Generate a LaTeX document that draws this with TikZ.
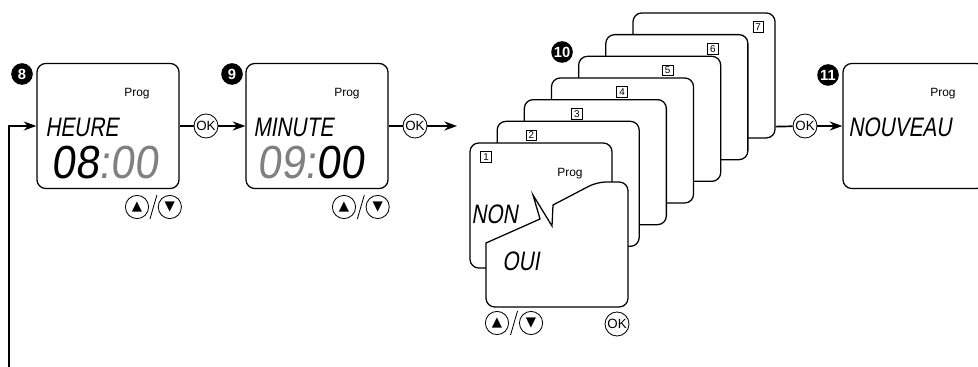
\documentclass[tikz,border=0pt]{standalone}
\usepackage{fontspec}
\setmainfont{Liberation Sans}
\newfontfamily\lcdword[FakeSlant=0.17,FakeStretch=0.78]{Liberation Sans}
\newfontfamily\lcddigit[FakeSlant=0.12,FakeStretch=0.92]{Liberation Sans}
\newfontfamily\symfont{DejaVu Sans}
\usetikzlibrary{arrows.meta,calc,positioning}
\definecolor{lcdoff}{gray}{0.5}

\begin{document}
\begin{tikzpicture}[
    x=0.025cm,
    y=-0.025cm,
    lcd/.style={
        draw,
        fill=white,
        line width=0.9pt,
        rounded corners=2.2mm,
        minimum width=3.55cm,
        minimum height=3.125cm,
        inner sep=0pt
    },
    badge/.style={
        circle,
        fill=black,
        text=white,
        minimum size=0.54cm,
        inner sep=0pt,
        font=\bfseries\fontsize{10.5}{10.5}\selectfont
    },
    okbtn/.style={
        circle,
        draw,
        line width=0.6pt,
        minimum size=0.6cm,
        inner sep=0pt,
        font=\fontsize{9.5}{9.5}\selectfont
    },
    btn/.style={
        circle,
        draw,
        line width=0.6pt,
        minimum size=0.58cm,
        inner sep=0pt,
        font=\symfont\fontsize{9.5}{9.5}\selectfont
    },
    prog/.style={
        inner sep=0pt,
        font=\fontsize{8.5}{8.5}\selectfont
    },
    word/.style={
        anchor=base west,
        inner sep=0pt,
        font=\lcdword\fontsize{19}{19}\selectfont
    },
    digits/.style={
        anchor=base west,
        inner sep=0pt,
        font=\lcddigit\fontsize{33}{33}\selectfont
    },
    tag/.style={
        draw,
        fill=white,
        line width=0.4pt,
        minimum size=0.27cm,
        inner sep=0pt,
        font=\fontsize{7}{7}\selectfont
    },
    conn/.style={
        line width=1.2pt
    },
    arrow/.style={
        conn,
        -{Stealth[length=9pt,width=6.5pt]}
    }
]
\clip (0,0) rectangle (978,367);

% Step 8: hour
\node [lcd] (d8) at (108,126) {};
\node [badge] (b8) at (22,74) {8};
\node [prog] (p8) at (137,94) {Prog};
\node [word] (w8) at (45,137) {HEURE};
\node [digits] (n8) at (51,178) {08{\color{lcdoff}:00}};
\node [btn] (up8) at (137,207) {▲};
\node [btn, right=0.22cm of up8] (dn8) {▼};
\draw [line width=0.6pt] ($(up8)!0.5!(dn8)+(-3.5,12)$) -- ++(7,-24);

% Step 9: minute
\node [lcd] (d9) at (317,126) {};
\node [badge] (b9) at (232,74) {9};
\node [prog] (p9) at (347,94) {Prog};
\node [word] (w9) at (253,137) {MINUTE};
\node [digits] (n9) at (257,178) {{\color{lcdoff}09:}00};
\node [btn] (up9) at (344,207) {▲};
\node [btn, right=0.24cm of up9] (dn9) {▼};
\draw [line width=0.6pt] ($(up9)!0.5!(dn9)+(-3.5,12)$) -- ++(7,-24);

% Step 10: days 1 to 7
\node [badge] (b10) at (562,52) {10};
\foreach \i in {7,6,...,1}{
    \node [lcd] (c\i) at ({541+27.17*(\i-1)},{205.5-21.67*(\i-1)}) {};
    \node [tag] (t\i) at ({486+45.37*(\i-1)},{157-21.67*(\i-1)}) {\i};
}
\node [prog] (p10) at (570,174) {Prog};
\node [word] (non) at (471,223) {NON};
\draw [line width=0.9pt, fill=white] (486,243) [rounded corners=2.2mm] -- (486,307) -- (628,307)
    -- (628,182) -- (597,182) [sharp corners] -- (553,205) -- (552,226) -- (533,195) -- (540,219) -- cycle;
\node [word] (oui) at (502,270) {OUI};
\node [btn] (up10) at (497,323) {▲};
\node [btn, right=0.25cm of up10] (dn10) {▼};
\draw [line width=0.6pt] ($(up10)!0.5!(dn10)+(-3.5,12)$) -- ++(7,-24);
\node [okbtn] (ok11) at (617,324) {OK};

% Step 11: new program
\node [lcd] (d11) at (914,126) {};
\node [badge] (b11) at (828,75) {11};
\node [prog] (p11) at (943,94) {Prog};
\node [word] (w11) at (848,137) {NOUVEAU};

% Flow
\coordinate (back) at (9,380);
\coordinate (into) at (457,126);
\node [okbtn] (ok8) at (206,126) {OK};
\node [okbtn] (ok9) at (415,126) {OK};
\node [okbtn] (ok10) at (805,126) {OK};
\draw [arrow] (back) |- (d8.west);
\draw [conn] (d8.east) -- (ok8);
\draw [arrow] (ok8) -- (d9.west);
\draw [conn] (d9.east) -- (ok9);
\draw [arrow] (ok9) -- (into);
\draw [conn] ($(c7.south east)+(0,-12)$) -- (ok10);
\draw [arrow] (ok10) -- (d11.west);

\end{tikzpicture}
\end{document}
